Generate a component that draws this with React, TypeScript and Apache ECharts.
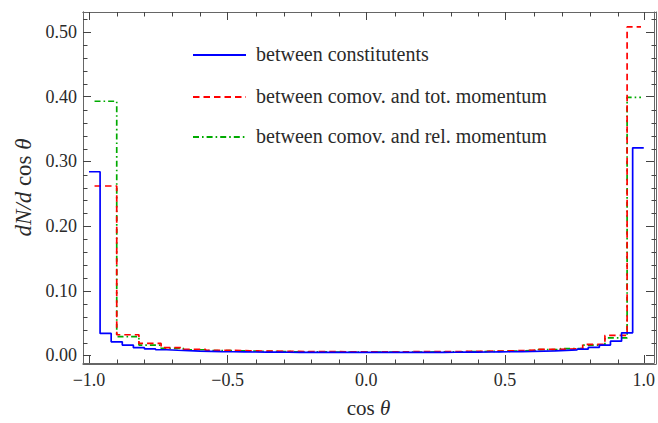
import React, { useEffect, useRef } from "react";
import * as echarts from "echarts";

// ---- data ----
const xMajorTicks = [-1, -0.5, 0, 0.5, 1];
const xMinorTicks = [-0.9, -0.8, -0.7, -0.6, -0.4, -0.3, -0.2, -0.1, 0.1, 0.2, 0.3, 0.4, 0.6, 0.7, 0.8, 0.9];
const yMajorTicks = [0, 0.1, 0.2, 0.3, 0.4, 0.5];
const yMinorTicks = [0.02, 0.04, 0.06, 0.08, 0.12, 0.14, 0.16, 0.18, 0.22, 0.24, 0.26, 0.28, 0.32, 0.34, 0.36, 0.38, 0.42, 0.44, 0.46, 0.48, 0.52];

const seriesNames = [
  "between constitutents",
  "between comov. and tot. momentum",
  "between comov. and rel. momentum",
];

// blue histogram: 50 bins of width 0.04 from -1 to 1
const blueBinStart = -1.0;
const blueBinWidth = 0.04;
const blueValues = [
  0.284, 0.034, 0.021, 0.016, 0.012, 0.01, 0.0088, 0.008, 0.0073, 0.0068,
  0.0064, 0.006, 0.0057, 0.0055, 0.0053, 0.0051, 0.005, 0.0049, 0.0048, 0.0047,
  0.0047, 0.0046, 0.0046, 0.0046, 0.0046, 0.0046, 0.0046, 0.0046, 0.0047, 0.0047,
  0.0048, 0.0048, 0.0049, 0.005, 0.0051, 0.0053, 0.0055, 0.0057, 0.006, 0.0063,
  0.0067, 0.0072, 0.0078, 0.0086, 0.0098, 0.0125, 0.016, 0.022, 0.035, 0.321,
];

// red / green histograms: 25 bins of width 0.08 starting at -0.98 (last bin truncated)
const rgBinStart = -0.98;
const rgBinWidth = 0.08;
const rgLastEdge = 0.99;
const redValues = [
  0.262, 0.032, 0.0185, 0.012, 0.0095, 0.008, 0.0072, 0.0066, 0.0062, 0.006,
  0.0058, 0.0056, 0.0056, 0.0057, 0.0058, 0.006, 0.0062, 0.0066, 0.0072, 0.0082,
  0.0095, 0.0105, 0.017, 0.031, 0.508,
];
const greenValues = [
  0.393, 0.029, 0.016, 0.011, 0.0088, 0.0075, 0.0068, 0.0062, 0.0058, 0.0055,
  0.0053, 0.0052, 0.0051, 0.0052, 0.0053, 0.0055, 0.0058, 0.0062, 0.0068, 0.0076,
  0.009, 0.0105, 0.016, 0.027, 0.399,
];

// ---- helpers ----
function edges(start: number, width: number, n: number, last?: number) {
  const e: number[] = [];
  for (let i = 0; i <= n; i++) e.push(+(start + i * width).toFixed(4));
  if (last !== undefined) e[n] = last;
  return e;
}
function stepData(e: number[], v: number[]) {
  const d: number[][] = [];
  for (let i = 0; i < v.length; i++) d.push([e[i], v[i]]);
  d.push([e[v.length], v[v.length - 1]]);
  return d;
}

const X_MIN = -1.0216;
const X_MAX = 1.037;
const Y_MIN = -0.0117;
const Y_MAX = 0.531;

const FONT = "Liberation Serif";
const FRAME = "#666";
const TICK = "#444";
const TEXT = "#2a2a2a";

const COLORS = ["#0000ff", "#ff0000", "#00aa00"];
const DASHES: any[] = ["solid", [6.5, 4], [6, 3, 1.6, 3]];

function rich(size: number) {
  return {
    r: { fontFamily: FONT, fontSize: size, color: TEXT },
    i: { fontFamily: FONT, fontSize: size, fontStyle: "italic", color: TEXT },
  };
}

function xAxis(grid: number, position: string, ticks: number[], len: number, label: boolean, name?: boolean) {
  return {
    type: "value",
    gridIndex: grid,
    position,
    min: X_MIN,
    max: X_MAX,
    axisLine: { show: true, onZero: false, lineStyle: { color: FRAME, width: 1 } },
    axisTick: { show: true, inside: true, length: len, customValues: ticks, lineStyle: { color: TICK, width: 1 } },
    axisLabel: {
      show: label,
      customValues: ticks,
      margin: 8,
      color: TEXT,
      fontFamily: FONT,
      fontSize: 18,
      formatter: (v: number) => v.toFixed(1).replace("-", "\u2212"),
    },
    splitLine: { show: false },
    name: name ? "{r|cos }{i|θ}" : "",
    nameLocation: "middle",
    nameGap: 34,
    nameTextStyle: { fontFamily: FONT, rich: rich(21) },
  };
}
function yAxis(grid: number, position: string, ticks: number[], len: number, label: boolean, name?: boolean) {
  return {
    type: "value",
    gridIndex: grid,
    position,
    min: Y_MIN,
    max: Y_MAX,
    axisLine: { show: true, onZero: false, lineStyle: { color: FRAME, width: 1 } },
    axisTick: { show: true, inside: true, length: len, customValues: ticks, lineStyle: { color: TICK, width: 1 } },
    axisLabel: {
      show: label,
      customValues: ticks,
      margin: 6,
      color: TEXT,
      fontFamily: FONT,
      fontSize: 18,
      formatter: (v: number) => v.toFixed(2),
    },
    splitLine: { show: false },
    name: name ? "{i|dN}{i|/}{i|d}{r| cos }{i|θ}" : "",
    nameLocation: "middle",
    nameGap: 45,
    nameTextStyle: { fontFamily: FONT, rich: rich(23) },
  };
}

const LEG_X1 = 193;
const LEG_X2 = 246;
const LEG_TX = 256;
const LEG_Y = [55, 97, 137];

export default function App() {
  const ref = useRef<HTMLDivElement>(null);
  useEffect(() => {
    if (!ref.current) return;
    const chart = echarts.init(ref.current, undefined, { renderer: "svg" });
    const blueEdges = edges(blueBinStart, blueBinWidth, blueValues.length);
    const rgEdges = edges(rgBinStart, rgBinWidth, redValues.length, rgLastEdge);
    const datasets = [
      stepData(blueEdges, blueValues),
      stepData(rgEdges, redValues),
      stepData(rgEdges, greenValues),
    ];
    const gridPos = { left: 83, right: 2, top: 12, bottom: 59 };
    const graphic: any[] = [];
    seriesNames.forEach((n, i) => {
      graphic.push({
        type: "line",
        shape: { x1: LEG_X1, y1: LEG_Y[i], x2: LEG_X2, y2: LEG_Y[i] },
        style: {
          stroke: COLORS[i],
          lineWidth: 1.8,
          lineDash: Array.isArray(DASHES[i]) ? DASHES[i] : null,
        },
      });
      graphic.push({
        type: "text",
        x: LEG_TX,
        y: LEG_Y[i] - 11,
        style: {
          text: n,
          fontFamily: FONT,
          fontSize: 20,
          fill: TEXT,
        },
      });
    });
    chart.setOption({
      animation: false,
      backgroundColor: "#ffffff",
      textStyle: { fontFamily: FONT },
      grid: [
        { ...gridPos, containLabel: false },
        { ...gridPos, containLabel: false },
      ],
      xAxis: [
        xAxis(0, "bottom", xMajorTicks, 8, true, true),
        xAxis(0, "top", xMajorTicks, 8, false),
        xAxis(1, "bottom", xMinorTicks, 4.5, false),
        xAxis(1, "top", xMinorTicks, 4.5, false),
      ],
      yAxis: [
        yAxis(0, "left", yMajorTicks, 8, true, true),
        yAxis(0, "right", yMajorTicks, 8, false),
        yAxis(1, "left", yMinorTicks, 4.5, false),
        yAxis(1, "right", yMinorTicks, 4.5, false),
      ],
      series: seriesNames.map((n, i) => ({
        name: n,
        type: "line",
        xAxisIndex: 0,
        yAxisIndex: 0,
        step: "end",
        showSymbol: false,
        symbol: "none",
        clip: true,
        data: datasets[i],
        lineStyle: { color: COLORS[i], width: 1.7, type: DASHES[i] },
        z: 3 - i,
      })),
      graphic,
    });
    return () => chart.dispose();
  }, []);
  return (
    <div
      ref={ref}
      style={{ position: "fixed", left: 0, top: 0, width: 658, height: 423, background: "#fff" }}
    />
  );
}
